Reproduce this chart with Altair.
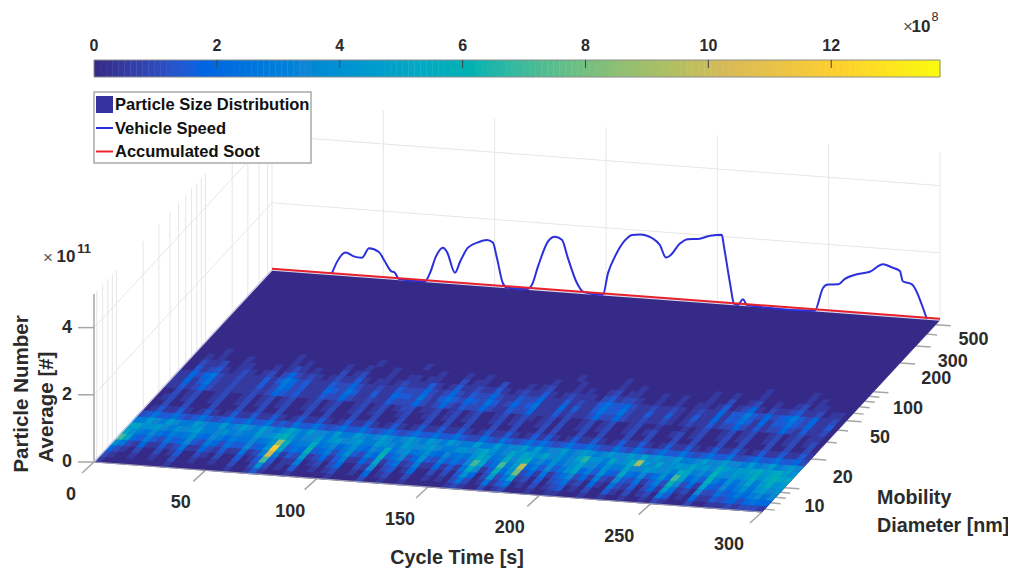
import math
import altair as alt

# ---------- data ----------
CB_MAX = 13.77                    # colour limit, x 1e8
PARULA = ["#352a87", "#0363e1", "#1485d4", "#06a7c6", "#38b99e",
          "#92bf73", "#d9ba56", "#fcce2e", "#f9fb0e"]
CB_TICKS = [0, 2, 4, 6, 8, 10, 12]
T_TICKS = [0, 50, 100, 150, 200, 250, 300]
D_TICKS_MAJOR = [10, 20, 50, 100, 200, 300, 500]
D_TICKS_MINOR = [6, 7, 8, 9, 30, 40, 60, 70, 80, 90, 400]
Z_TICKS = [0, 2, 4]
D_MIN, D_MAX, T_MAX, Z_MAX = 5.6, 560.0, 300.0, 5.0

DIAM_EDGES = [5.6, 6.43, 7.38, 8.47, 9.73, 11.2, 12.8, 14.7, 16.9, 19.4, 22.3, 25.6, 29.4,
              33.7, 38.7, 44.5, 51.1, 58.6, 67.3, 77.3, 88.7]
# one character per 3 s cell, base-36, in units of 0.5e8; first row is the smallest diameter
HEAT = [
    "1000000000 1000000001 0013100010 0000100002 0010010000 0012100201 2000100110 0010010010 0102100020 0111212221",
    "2100100100 2001001002 0028201030 0101200104 0120020010 1025201513 5010201230 1020031020 1206301041 1323424544",
    "4210200201 3002102003 013e301160 1202400217 0230140020 2038402925 a120302351 2041052130 2419512072 2534646757",
    "8521411312 5114213115 126k613291 241361142a 1351261141 315b713c48 g241513572 4162173251 362c7241a4 3746858978",
    "ea43632534 7326425337 348oa354c3 462583264c 3572483263 537ea35e69 j4637358a4 63843a5473 584ea463c6 4857a69b89",
    "a865754656 8547646557 568hb566b5 674685476b 5785685475 658b956b7a c6758578a7 75866a7798 786ba676c8 7989b8acaa",
    "aa88976878 9667867669 78ac967796 8978966987 6987897668 879a867a8a 98a7867ad8 86a78bi97a 7898a897b9 899ab9ab98",
    "6697697669 7669679769 768a869776 9669767976 7976976976 6966967796 9677967986 797797a797 7966797797 7696796797",
    "2353353235 3235335335 2325335323 5335323532 3533533532 2532532353 5323533532 2532532353 3532353352 2353353342",
    "0131131013 1013113113 1013113101 3113101310 1311311310 1311310131 3101311310 1311310131 1310131131 0131131131",
    "0020020002 0002002002 0002002000 2002000200 0200200200 0200200020 2000200200 0200200020 0200020020 0020020020",
    "0120120012 0012012012 0012012001 2012001200 1201201200 1201200120 2001201200 1201200120 1200120120 0120120120",
    "0020120012 0012012012 0012012001 2012012201 1201201200 1201210120 2001201200 1200100010 1200120120 0120120110",
    "1131242112 1112124323 1113224211 2113222421 2421322421 1322411131 2112422421 1211210121 1312242131 2242131120",
    "1141352112 1113125423 1114325311 3114332521 3532432531 2423511141 3113533521 1311310131 1413353141 3353241130",
    "1142452112 1113136423 1113224211 2113222421 2421322421 1322411131 2113533421 1211210121 1413363242 3463241120",
    "0031231012 1012024212 1012113101 1012111310 1311211310 1211310121 1102312210 0100100110 1301241021 1231120110",
    "0021120011 0001012101 0002012000 1001101100 0201100200 0101200010 1001201100 0100100010 0200120010 0120110000",
    "0010100010 0000010100 0001001000 1000000100 0100100000 0000100010 0000100100 0000000010 0100010000 0010100000",
    "0000100000 0000010000 0000000100 0000100000 0000000000 0000000100 0000100000 0000000000 0000010000 0010000000",
]
CELL_T = 3.0

SPEED_T = [26.9, 29.2, 33.2, 36.4, 40.4, 43.6, 48, 50.7, 53.4, 55.2, 57, 68.7, 70.9, 73.6, 76.8,
           78.6, 82.2, 84.4, 88, 92.5, 96.5, 99.2, 101, 103.7, 105.5, 114.5, 116.7, 119.4, 123.9,
           127, 130.2, 132.9, 137, 139.7, 148.6, 150.9, 154, 158.5, 161.7, 165.2, 171, 174.2,
           176.9, 178.7, 183.2, 186.8, 191.3, 196.7, 202, 203, 205.7, 207.5, 209.3, 211.5, 213.3,
           243.8, 247.4, 249.7, 254.2, 257.3, 262.7, 268.5, 274.4, 278.4, 282, 283.3, 287.4,
           293.2, 294.1]
SPEED = [1, 13, 23, 20, 19, 29, 26, 17, 8, 6.5, 0.5, 0, 8.5, 25.6, 35, 31, 11, 22, 37, 43, 46, 44,
         29, 4, 0, 0, 4.5, 23, 49, 54.5, 52, 34, 9.5, 1.6, 0, 22, 39, 56, 62, 63, 60, 54, 42, 44,
         57, 62, 63, 67, 69, 57, 21, 1, 0, 6, 0.6, 0, 23, 27, 28, 34, 39.5, 43, 51.5, 49, 46, 36,
         33.6, 5.6, 0]
SPEED_TO_Z = 1 / 33.6
SOOT_T = [0, 300]
SOOT_Z = [0.04, 0.04]

LEGEND = ["Particle Size Distribution", "Vehicle Speed", "Accumulated Soot"]

# ---------- chart frame ----------
W, H = 1000, 561
FONT = "Liberation Sans"
INK = "#2b2b2b"


def project(t, d, z=0.0):
    """3-D view of the axes: returns page position less the 8px margin."""
    u = t / T_MAX
    v = math.log10(d / D_MIN) / math.log10(D_MAX / D_MIN)
    return (94 + 668 * u + 178 * v - 8, 462 + 50 * u - 192 * v - 33.6 * z - 8)


def cbx(val):
    return 94 + (940 - 94) * val / CB_MAX - 8


def page(x, y):
    return (x - 8, y - 8)


xs = alt.Scale(domain=[0, W], range=[0, W], nice=False, zero=False)
ys = alt.Scale(domain=[0, H], range=[0, H], nice=False, zero=False)
cs = alt.Scale(domain=[CB_MAX * i / 8 for i in range(9)], range=PARULA, clamp=True)
X = alt.X("x:Q", scale=xs, axis=None)
Y = alt.Y("y:Q", scale=ys, axis=None)


def rules(segs, color, width):
    rows = [{"x": a[0], "y": a[1], "x2": b[0], "y2": b[1]} for a, b in segs]
    return alt.Chart(alt.Data(values=rows)).mark_rule(color=color, strokeWidth=width).encode(
        x=X, y=Y, x2="x2:Q", y2="y2:Q")


def texts(rows, size, weight="bold", color=INK, align="center", angle=0):
    data = [{"x": p[0], "y": p[1], "label": s} for p, s in rows]
    return alt.Chart(alt.Data(values=data)).mark_text(
        font=FONT, fontSize=size, fontWeight=weight, color=color, align=align,
        baseline="middle", angle=angle).encode(x=X, y=Y, text="label:N")


def polyline(pts, color, width, interp="linear"):
    rows = [{"x": p[0], "y": p[1], "i": i} for i, p in enumerate(pts)]
    return alt.Chart(alt.Data(values=rows)).mark_line(
        color=color, strokeWidth=width, interpolate=interp).encode(
        x=X, y=Y, order="i:Q")


# walls
GRID = "#e6e6e6"
d_all = D_TICKS_MINOR + D_TICKS_MAJOR
wall = []
for d in d_all:
    wall.append((project(0, d), project(0, d, Z_MAX)))
for t in T_TICKS:
    wall.append((project(t, D_MAX), project(t, D_MAX, Z_MAX)))
for z in Z_TICKS[1:]:
    wall.append((project(0, D_MIN, z), project(0, D_MAX, z)))
    wall.append((project(0, D_MAX, z), project(300, D_MAX, z)))
walls = rules(wall, GRID, 1)

# axis lines and ticks
AX = "#a6a6a6"
z_axis = rules([(project(0, D_MIN, 0), project(0, D_MIN, Z_MAX))], AX, 1.5)
z_tk = []
for z in Z_TICKS:
    p = project(0, D_MIN, z)
    z_tk.append(((p[0] - 16, p[1]), p))
t_tk = []
for t in T_TICKS:
    p = project(t, D_MIN)
    t_tk.append((p, (p[0] - 12, p[1] + 11)))
d_tk = []
for d in D_TICKS_MAJOR:
    p = project(T_MAX, d)
    d_tk.append((p, (p[0] + 15, p[1] + 1)))
for d in D_TICKS_MINOR:
    p = project(T_MAX, d)
    d_tk.append((p, (p[0] + 10, p[1] + 1)))
ticks = rules(z_tk + t_tk + d_tk, AX, 1.5)


# heat surface
def quad(t0, t1, d0, d1):
    ring = [project(t0, d0), project(t1, d0), project(t1, d1), project(t0, d1), project(t0, d0)]
    return {"type": "Polygon", "coordinates": [[list(p) for p in ring]]}


feats = [{"type": "Feature", "properties": {"value": 0.0},
          "geometry": quad(0, T_MAX, D_MIN, D_MAX)}]
for r, row in enumerate(HEAT):
    cells = row.replace(" ", "")
    for c, ch in enumerate(cells):
        val = int(ch, 36) * 0.5
        if val > 0:
            feats.append({"type": "Feature", "properties": {"value": val},
                          "geometry": quad(c * CELL_T, (c + 1) * CELL_T,
                                           DIAM_EDGES[r], DIAM_EDGES[r + 1])})

surface = alt.Chart(alt.Data(values=feats)).mark_geoshape(strokeWidth=0.6).encode(
    color=alt.Color("properties.value:Q", scale=cs, legend=None),
    stroke=alt.Color("properties.value:Q", scale=cs, legend=None),
).project(type="identity", scale=1, translate=[0, 0])

edge = polyline([project(0, D_MIN), project(0, D_MAX)], "#cfcce8", 1.5)
front = polyline([project(0, D_MIN), project(300, D_MIN)], "#9a9ab0", 1.2)
back_edge = polyline([project(0, D_MAX), project(300, D_MAX)], "#d8d6ee", 1.5)

# traces on the back plane
speed = polyline([project(t, D_MAX, s * SPEED_TO_Z) for t, s in zip(SPEED_T, SPEED)],
                 "#2b2fdc", 2, "monotone")
soot = polyline([project(t, D_MAX, z) for t, z in zip(SOOT_T, SOOT_Z)], "#e8222c", 2)

# colour bar
N_BANDS = 140
bar_rows = []
for i in range(N_BANDS):
    v0, v1 = CB_MAX * i / N_BANDS, CB_MAX * (i + 1) / N_BANDS
    bar_rows.append({"x": cbx(v0), "x2": cbx(v1) + 0.4, "y": 60 - 8, "y2": 77 - 8,
                     "value": (v0 + v1) / 2})
bar = alt.Chart(alt.Data(values=bar_rows)).mark_rect().encode(
    x=X, x2="x2:Q", y=Y, y2="y2:Q",
    color=alt.Color("value:Q", scale=cs, legend=None))
bar_box = alt.Chart(alt.Data(values=[{"x": cbx(0), "x2": cbx(CB_MAX), "y": 52, "y2": 69}])).mark_rect(
    fill=None, stroke="#8c8c8c", strokeWidth=1).encode(x=X, x2="x2:Q", y=Y, y2="y2:Q")
bar_ticks = rules([((cbx(v), 52), (cbx(v), 60)) for v in CB_TICKS[1:]], "#444444", 1)
bar_labels = texts([((cbx(v), 46 - 8), str(v)) for v in CB_TICKS], 16)

# legend
box = alt.Chart(alt.Data(values=[{"x": 86, "x2": 303, "y": 84, "y2": 155}])).mark_rect(
    fill="white", stroke="#ababab", strokeWidth=1.5).encode(x=X, x2="x2:Q", y=Y, y2="y2:Q")
swatch = alt.Chart(alt.Data(values=[{"x": 88, "x2": 105, "y": 88, "y2": 105}])).mark_rect(
    fill="#3532a0").encode(x=X, x2="x2:Q", y=Y, y2="y2:Q")
leg_blue = rules([((88, 120), (105, 120))], "#2b2fdc", 2)
leg_red = rules([((88, 143.5), (105, 143.5))], "#e8222c", 2)
leg_text = texts([(page(115, 105), LEGEND[0]), (page(115, 129), LEGEND[1]), (page(115, 152), LEGEND[2])],
                 16.5, color="#111111", align="left")

# tick labels
z_labels = texts([((project(0, D_MIN, z)[0] - 27, project(0, D_MIN, z)[1]), str(z)) for z in Z_TICKS], 18)
t_labels = texts([((project(t, D_MIN)[0] - 23 - 10 * t / 300, project(t, D_MIN)[1] + 33), str(t))
                  for t in T_TICKS], 18)
d_rows = []
for d in D_TICKS_MAJOR:
    p = project(T_MAX, d)
    v = math.log10(d / D_MIN) / 2
    d_rows.append(((p[0] + 29 + 9 * v, p[1] + 20 - 5 * v), str(d)))
d_labels = texts(d_rows, 18)

# titles
titles = texts([(page(457, 558), "Cycle Time [s]")], 19.8)
mob = texts([(page(877, 498), "Mobility"), (page(877, 526), "Diameter [nm]")], 19.7, align="left")
z_title = texts([(page(22, 394), "Particle Number"), (page(47, 407), "Average [#]")], 20.5, angle=270)

# exponents
exp8a = texts([(page(908, 27), "×")], 17, weight="normal", color="#555555")
exp8b = texts([(page(921, 27), "10")], 17)
exp8c = texts([(page(935, 17), "8")], 12.5, weight="normal")
exp11a = texts([(page(48, 258), "×")], 17, weight="normal", color="#555555")
exp11b = texts([(page(66, 257), "10")], 17)
exp11c = texts([(page(84, 249), "11")], 13)

chart = alt.layer(
    walls, z_axis, ticks, surface, edge, front, back_edge, speed, soot,
    bar, bar_box, bar_ticks, bar_labels,
    box, swatch, leg_blue, leg_red, leg_text,
    z_labels, t_labels, d_labels, titles, mob, z_title,
    exp8a, exp8b, exp8c, exp11a, exp11b, exp11c,
).properties(width=W, height=H, padding=0, background="white",
             autosize=alt.AutoSizeParams(type="none")
).configure_view(stroke=None)

chart.save("out.html", embed_options={"renderer": "svg", "actions": False})
